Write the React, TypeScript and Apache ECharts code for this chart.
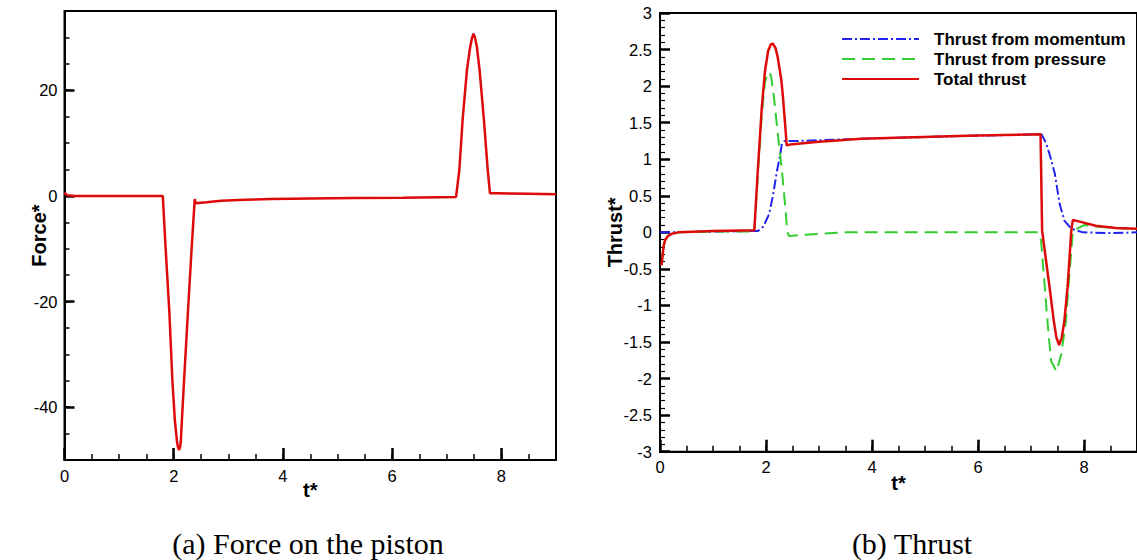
import React, { useEffect, useRef } from "react";
import * as echarts from "echarts";

// ---- Data: (a) Force on the piston ----
const forceT = [0, 0.05, 0.2, 1.0, 1.8, 1.85, 1.92, 1.975, 2.02, 2.06, 2.08, 2.1, 2.115, 2.13, 2.15, 2.19, 2.26, 2.33, 2.385, 2.4, 2.6, 2.87, 3.3, 3.79, 4.5, 5.3, 6.2, 7.17, 7.23, 7.29, 7.37, 7.43, 7.46, 7.49, 7.52, 7.55, 7.6, 7.68, 7.75, 7.79, 7.9, 8.5, 9.0];
const forceV = [0.6, 0.1, 0, 0, 0, -9.6, -22, -34.8, -42.4, -46.5, -47.7, -48.1, -47.6, -46.5, -42.4, -34.8, -22, -9.6, -0.6, -1.4, -1.2, -0.9, -0.75, -0.6, -0.5, -0.4, -0.35, -0.2, 4.9, 14.4, 23.9, 28.3, 29.8, 30.7, 29.8, 28.3, 23.9, 14.4, 4.9, 0.5, 0.5, 0.4, 0.3];

// ---- Data: (b) Thrust ----
const momentumT = [0, 1.0, 1.85, 1.95, 2.06, 2.13, 2.21, 2.27, 2.3, 2.35, 2.6, 3.0, 3.8, 4.8, 5.8, 6.5, 7.2, 7.29, 7.37, 7.45, 7.54, 7.63, 7.76, 7.98, 8.5, 9.0];
const momentumV = [0, 0.01, 0.02, 0.08, 0.25, 0.5, 0.85, 1.07, 1.21, 1.25, 1.25, 1.26, 1.28, 1.3, 1.32, 1.33, 1.34, 1.21, 1.02, 0.8, 0.39, 0.16, 0.05, 0.0, -0.01, 0.0];

const pressureT = [0.03, 0.05, 0.07, 0.1, 0.15, 0.22, 0.35, 1.0, 1.78, 1.85, 1.92, 1.98, 2.03, 2.07, 2.1, 2.15, 2.23, 2.3, 2.37, 2.4, 2.43, 2.6, 3.0, 3.5, 7.13, 7.19, 7.26, 7.32, 7.38, 7.48, 7.57, 7.66, 7.73, 7.79, 8.0, 8.22, 8.6, 9.0];
const pressureV = [-0.45, -0.3, -0.18, -0.1, -0.05, -0.02, 0, 0.01, 0.01, 0.85, 1.6, 2.05, 2.17, 2.19, 2.12, 1.85, 1.3, 0.85, 0.3, 0.02, -0.05, -0.04, -0.02, 0, 0, -0.11, -0.75, -1.3, -1.76, -1.9, -1.67, -1.21, -0.52, 0.02, 0.1, 0.08, 0.06, 0.05];

const totalT = [0.03, 0.05, 0.07, 0.1, 0.15, 0.22, 0.35, 1.0, 1.78, 1.85, 1.92, 1.98, 2.04, 2.09, 2.13, 2.18, 2.22, 2.29, 2.32, 2.37, 2.39, 2.45, 3.0, 3.8, 4.8, 5.8, 6.5, 7.18, 7.21, 7.35, 7.43, 7.48, 7.53, 7.58, 7.63, 7.69, 7.76, 7.79, 7.9, 8.22, 8.6, 9.0];
const totalV = [-0.45, -0.3, -0.18, -0.1, -0.05, -0.02, 0, 0.02, 0.03, 0.9, 1.7, 2.2, 2.48, 2.57, 2.58, 2.52, 2.4, 2.08, 1.85, 1.39, 1.19, 1.2, 1.24, 1.28, 1.3, 1.32, 1.33, 1.34, 0.02, -0.75, -1.21, -1.44, -1.54, -1.44, -1.21, -0.75, 0.02, 0.17, 0.15, 0.09, 0.06, 0.05];

// ---- Tick labels / text ----
const xMajorTicks = [0, 2, 4, 6, 8];
const forceMajorTicks = [-40, -20, 0, 20];
const seriesNames = ["Thrust from momentum", "Thrust from pressure", "Total thrust"];
const captionA = "(a) Force on the piston";
const captionB = "(b) Thrust";

const pairs = (t: number[], v: number[]) => t.map((x, i) => [x, v[i]]);

const SANS = "'Liberation Sans', Arial, sans-serif";
const SERIF = "'Liberation Serif', 'Times New Roman', serif";
const labelStyle = { color: "#000", fontFamily: SANS, fontSize: 16.5 };
const nameStyle = { color: "#000", fontFamily: SANS, fontSize: 20, fontWeight: "bold" as const };

export default function App() {
  const ref = useRef<HTMLDivElement>(null);
  useEffect(() => {
    if (!ref.current) return;
    const chart = echarts.init(ref.current, null, { renderer: "svg" });
    const minorX = (grid: number) => ({
      type: "value", gridIndex: grid, min: 0, max: 9, interval: 0.5, position: "bottom", offset: 0,
      axisLine: { show: true, onZero: false, lineStyle: { color: "#000", width: 2 } },
      axisTick: { show: true, inside: true, length: 6, lineStyle: { color: "#000", width: 1.5 } },
      axisLabel: { show: false }, splitLine: { show: false },
    });
    const majorX = (grid: number, gap: number) => ({
      type: "value", gridIndex: grid, min: 0, max: 9, interval: 0.5, position: "bottom", offset: 0,
      name: "t*", nameLocation: "middle", nameGap: gap, nameMoveOverlap: false, nameTextStyle: nameStyle,
      axisLine: { show: false, onZero: false },
      axisTick: { show: true, inside: true, length: 12, customValues: xMajorTicks, lineStyle: { color: "#000", width: 2.5 } },
      axisLabel: { show: true, customValues: xMajorTicks, margin: 7, ...labelStyle },
      splitLine: { show: false },
    });
    const option: any = {
      animation: false,
      backgroundColor: "#fff",
      grid: [
        { left: 64.5, top: 11, width: 491.5, height: 449, show: true, borderColor: "#000", borderWidth: 2, backgroundColor: "transparent" },
        { left: 660, top: 13, width: 481, height: 438.7, show: true, borderColor: "#000", borderWidth: 2, backgroundColor: "transparent" },
      ],
      xAxis: [minorX(0), majorX(0, 20), minorX(1), majorX(1, 21)],
      yAxis: [
        {
          type: "value", gridIndex: 0, min: -50, max: 35, interval: 5, position: "left", offset: 0,
          axisLine: { show: true, onZero: false, lineStyle: { color: "#000", width: 2 } },
          axisTick: { show: true, inside: true, length: 5, lineStyle: { color: "#000", width: 1.5 } },
          axisLabel: { show: false }, splitLine: { show: false },
        },
        {
          type: "value", gridIndex: 0, min: -50, max: 35, interval: 5, position: "left", offset: 0,
          name: "Force*", nameLocation: "middle", nameGap: 16, nameMoveOverlap: false, nameTextStyle: nameStyle,
          axisLine: { show: false, onZero: false },
          axisTick: { show: true, inside: true, length: 10, customValues: forceMajorTicks, lineStyle: { color: "#000", width: 2.5 } },
          axisLabel: { show: true, customValues: forceMajorTicks, margin: 7, ...labelStyle },
          splitLine: { show: false },
        },
        {
          type: "value", gridIndex: 1, min: -3, max: 3, interval: 0.5, position: "left", offset: 0,
          name: "Thrust*", nameLocation: "middle", nameGap: 35, nameMoveOverlap: false, nameTextStyle: nameStyle,
          axisLine: { show: true, onZero: false, lineStyle: { color: "#000", width: 2 } },
          axisTick: { show: true, inside: true, length: 10, lineStyle: { color: "#000", width: 2.5 } },
          minorTick: { show: true, splitNumber: 5, length: 5, lineStyle: { color: "#000", width: 1.2 } },
          axisLabel: { show: true, margin: 8, ...labelStyle },
          splitLine: { show: false },
        },
      ],
      legend: {
        data: seriesNames,
        orient: "vertical",
        left: 841,
        top: 29,
        itemWidth: 77,
        itemHeight: 20,
        itemGap: 0,
        padding: 0,
        itemStyle: { opacity: 0 },
        textStyle: { color: "#000", fontFamily: SANS, fontSize: 17, fontWeight: "bold", lineHeight: 20, padding: [0, 0, 0, 10] },
      },
      series: [
        {
          name: "Force", type: "line", xAxisIndex: 0, yAxisIndex: 0, data: pairs(forceT, forceV),
          symbol: "none", lineStyle: { color: "#dd0a0a", width: 2.5 }, itemStyle: { color: "#dd0a0a" },
        },
        {
          name: seriesNames[0], type: "line", xAxisIndex: 2, yAxisIndex: 2, data: pairs(momentumT, momentumV),
          symbol: "none", lineStyle: { color: "#2323f0", width: 2, type: [10, 3, 2, 3] }, itemStyle: { color: "#2323f0" },
        },
        {
          name: seriesNames[1], type: "line", xAxisIndex: 2, yAxisIndex: 2, data: pairs(pressureT, pressureV),
          symbol: "none", lineStyle: { color: "#33cc33", width: 2, type: [13, 7] }, itemStyle: { color: "#33cc33" },
        },
        {
          name: seriesNames[2], type: "line", xAxisIndex: 2, yAxisIndex: 2, data: pairs(totalT, totalV),
          symbol: "none", lineStyle: { color: "#dd0a0a", width: 2.5 }, itemStyle: { color: "#dd0a0a" },
        },
      ],
      graphic: [
        { type: "text", x: 308, y: 543, style: { text: captionA, fill: "#000", font: `30px ${SERIF}`, textAlign: "center", textVerticalAlign: "middle" } },
        { type: "text", x: 912, y: 543, style: { text: captionB, fill: "#000", font: `30px ${SERIF}`, textAlign: "center", textVerticalAlign: "middle" } },
      ],
    };
    chart.setOption(option);
    return () => chart.dispose();
  }, []);
  return <div ref={ref} style={{ position: "fixed", left: 0, top: 0, width: 1137, height: 560, background: "#fff" }} />;
}
